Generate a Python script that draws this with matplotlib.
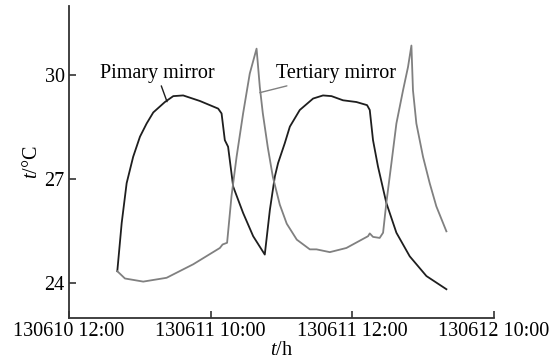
import numpy as np
import matplotlib
matplotlib.use("Agg")
import matplotlib.pyplot as plt

# values (x: 0..3 == the four time ticks)
tick_labels = ["130610 12:00", "130611 10:00", "130611 12:00", "130612 10:00"]
y_ticks = [24, 27, 30]

primary_x = [0.341, 0.372, 0.407, 0.453, 0.501, 0.548, 0.595, 0.677, 0.736, 0.806,
             0.924, 1.053, 1.077, 1.100, 1.123, 1.159, 1.229, 1.300, 1.382, 1.418,
             1.453, 1.476, 1.523, 1.559, 1.629, 1.723, 1.793, 1.853, 1.934, 2.029,
             2.104, 2.123, 2.146, 2.181, 2.240, 2.311, 2.405, 2.523, 2.664]
primary_y = [24.35, 25.74, 26.89, 27.65, 28.23, 28.61, 28.93, 29.23, 29.40, 29.42,
             29.26, 29.04, 28.90, 28.13, 27.94, 26.79, 26.03, 25.36, 24.83, 26.12,
             27.08, 27.47, 28.04, 28.52, 29.00, 29.33, 29.42, 29.40, 29.28, 29.23,
             29.14, 29.00, 28.13, 27.37, 26.32, 25.46, 24.78, 24.21, 23.83]

tertiary_x = [0.341, 0.395, 0.524, 0.689, 0.877, 1.065, 1.084, 1.116, 1.147, 1.183,
              1.229, 1.276, 1.324, 1.347, 1.368, 1.403, 1.439, 1.488, 1.537, 1.608,
              1.700, 1.747, 1.841, 1.958, 2.111, 2.123, 2.146, 2.193, 2.217, 2.240,
              2.276, 2.311, 2.358, 2.393, 2.417, 2.428, 2.452, 2.499, 2.546, 2.593,
              2.664]
tertiary_y = [24.35, 24.14, 24.05, 24.16, 24.55, 25.02, 25.12, 25.17, 26.51, 27.65,
              28.90, 30.05, 30.77, 29.66, 28.91, 27.93, 27.07, 26.27, 25.72, 25.26,
              24.98, 24.98, 24.90, 25.02, 25.36, 25.44, 25.34, 25.31, 25.46, 26.32,
              27.47, 28.61, 29.57, 30.24, 30.86, 29.57, 28.61, 27.65, 26.89, 26.22,
              25.50]

plt.rcParams['font.family'] = ['Liberation Serif', 'DejaVu Serif']
plt.rcParams['mathtext.fontset'] = 'custom'
plt.rcParams['mathtext.rm'] = 'Liberation Serif'
plt.rcParams['mathtext.it'] = 'Liberation Serif:italic'

fig = plt.figure(figsize=(5.55, 3.61), dpi=100)
ax = fig.add_axes([0.1243, 0.1191, 0.7658, 0.8643])

ax.plot(primary_x, primary_y, color='#1e1e1e', lw=1.3)
ax.plot(tertiary_x, tertiary_y, color='#808080', lw=1.3)

ax.set_xlim(0, 3)
ax.set_ylim(23.0, 32.0)
ax.set_xticks(range(len(tick_labels)))
ax.set_xticklabels(tick_labels)
ax.set_yticks(y_ticks)

for s in ['top', 'right']:
    ax.spines[s].set_visible(False)
for s in ['left', 'bottom']:
    ax.spines[s].set_linewidth(1.3)
    ax.spines[s].set_color('#333333')
ax.tick_params(direction='in', length=5, width=1.2, labelsize=14.5, color='#333333', pad=3)

ax.set_xlabel(r'$t$/h', fontsize=14.5, labelpad=0)
ax.set_ylabel(r'$t$/°C', fontsize=14.5, labelpad=2)

ax.annotate('Pimary mirror', xy=(0.692, 29.24), xytext=(0.62, 30.05),
            fontsize=14.5, ha='center', va='center',
            arrowprops=dict(arrowstyle='-', color='#1e1e1e', lw=1.0, shrinkA=0, shrinkB=0))
ax.annotate('Tertiary mirror', xy=(1.347, 29.5), xytext=(1.46, 30.05),
            fontsize=14.5, ha='left', va='center',
            arrowprops=dict(arrowstyle='-', color='#808080', lw=1.0, shrinkA=0, shrinkB=0))

fig.savefig('out.png', dpi=100)
